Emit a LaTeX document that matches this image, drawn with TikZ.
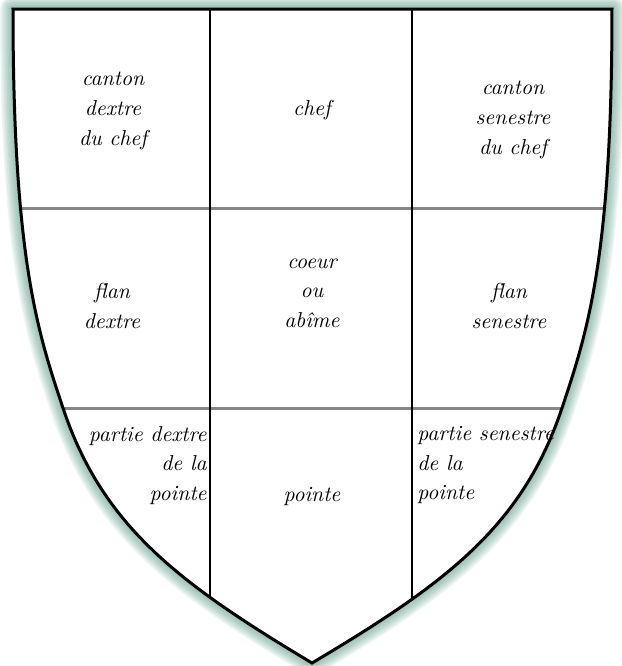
\documentclass[tikz,border=0pt]{standalone}
\usepackage{xcolor}
\usepackage{tikz}
\usetikzlibrary{positioning}

\definecolor{glow}{RGB}{97,158,141}
\definecolor{partgrey}{RGB}{135,135,135}

% outline of the shield, in pixels of the reference
\def\shieldpath{(13,9) -- (612,9)
  .. controls (612,259) and (587,333) .. (562,408)
  .. controls (522,528) and (443,585) .. (312,663)
  .. controls (182,585) and (103,528) .. (63,408)
  .. controls (38,333) and (13,259) .. (13,9)
  -- cycle}

\begin{document}
\begin{tikzpicture}[
    x=0.5pt, y=-0.5pt,
    field/.style={align=center, inner sep=0pt, font=\itshape\fontsize{10.8}{14.8}\selectfont},
    halo/.style={draw=glow, draw opacity=0.1, line join=round},
    rim/.style={draw=black, line width=1.5pt, line join=miter},
    partline/.style={draw=partgrey, line width=1.5pt},
    paleline/.style={draw=black, line width=0.9pt}
]
\useasboundingbox[fill=white] (0,0) rectangle (622,666);

% soft green glow round the shield
\foreach \w in {13,11.5,...,1} {
  \path[halo, line width=\w pt] \shieldpath;
}
\fill[white] \shieldpath;

% partition lines
\begin{scope}
  \clip \shieldpath;
  \draw[partline] (0,208) -- (622,208);
  \draw[partline] (0,408) -- (622,408);
  \draw[paleline] (210,0) -- (210,666);
  \draw[paleline] (412,0) -- (412,666);
\end{scope}
\draw[rim] \shieldpath;

% names of the points
\node[field] (cantondextre) at (113,111) {canton\\dextre\\du chef};
\node[field] (chef) at (312,110) {chef};
\node[field] (cantonsenestre) at (513,120) {canton\\senestre\\du chef};
\node[field] (flandextre) at (112,306) {flan\\dextre};
\node[field] (coeur) at (312,293) {coeur\\ou\\ab\^ime};
\node[field] (flansenestre) at (509,306) {flan\\senestre};
\node[field, align=right, anchor=north east] (partiedextre) at (207,426) {partie dextre\\de la\\pointe};
\node[field] (pointe) at (312,497) {pointe};
\node[field, align=left, anchor=north west] (partiesenestre) at (417,426) {partie senestre\\de la\\pointe};
\end{tikzpicture}
\end{document}
